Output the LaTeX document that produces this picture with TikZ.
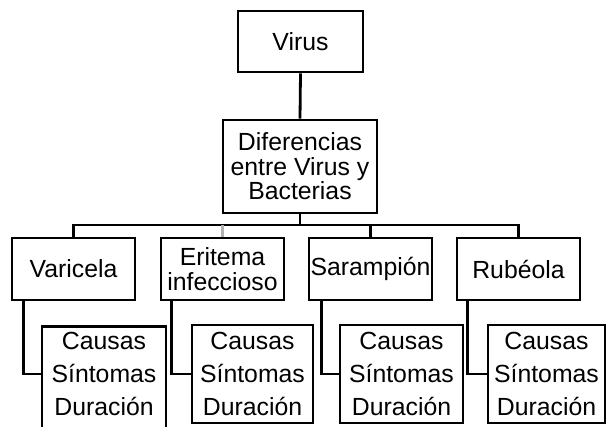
\documentclass[tikz,border=0pt]{standalone}
\usepackage{fontspec}
\setmainfont{Liberation Sans}
\usetikzlibrary{calc}
\begin{document}
\begin{tikzpicture}[x=1pt,y=1pt,
  box/.style={draw=black,line width=2.8pt,inner sep=0pt,align=center,minimum height=#1},
  box/.default=62pt,
  big/.style={font=\fontsize{24.8}{24.5}\selectfont},
  list/.style={font=\fontsize{24.8}{33}\selectfont},
  conn/.style={line width=2.8pt,draw=black},
]
\useasboundingbox (0,0) rectangle (607,-426);
\clip (0,0) rectangle (607,-426);
\node[box=61pt,big,minimum width=125pt] (virus) at (300.5,-41.5) {Virus};
\node[box=93pt,big,minimum width=154pt] (dif) at (300,-166.5) {Diferencias\\entre Virus y\\Bacterias};
\node[box,big,minimum width=123pt] (var) at (73.5,-269) {Varicela};
\node[box,big,minimum width=123pt] (eri) at (222.5,-269) {Eritema\\infeccioso};
\node[box,big,minimum width=123pt] (sar) at (370.5,-269) {Sarampión};
\node[box,big,minimum width=123pt] (rub) at (518.5,-269) {Rubéola};
\node[box=120pt,list,minimum width=124pt,anchor=north] (c1) at (104,-325) {};
\node[list,anchor=center,inner sep=0pt,align=center] (t1) at (104,-374) {Causas\\Síntomas\\Duración};
\node[box=98pt,list,minimum width=121pt] (c2) at (252.5,-374) {Causas\\Síntomas\\Duración};
\node[box=98pt,list,minimum width=123pt] (c3) at (401.5,-374) {Causas\\Síntomas\\Duración};
\node[box=98pt,list,minimum width=117pt] (c4) at (546.5,-374) {Causas\\Síntomas\\Duración};
\coordinate (bus) at (300,-225);
\draw[conn] (virus.south) -- (dif.north);
\draw[conn] (dif.south) -- (bus);
\draw[conn] (var.north) -- (var.north |- bus) -- (rub.north |- bus) -- (rub.north);
\draw[conn] (sar.north) -- (sar.north |- bus);
\draw[line width=2.2pt,draw=gray!60] (eri.north) -- (eri.north |- bus);
\draw[conn] ($(var.south west)+(13,0)$) |- (c1.west |- t1.west);
\draw[conn] ($(eri.south west)+(12,0)$) |- (c2.west);
\draw[conn] ($(sar.south west)+(14,0)$) |- (c3.west);
\draw[conn] ($(rub.south west)+(12,0)$) |- (c4.west);
\end{tikzpicture}
\end{document}
